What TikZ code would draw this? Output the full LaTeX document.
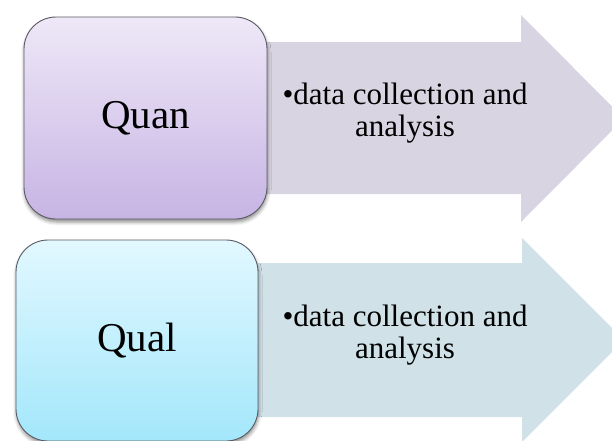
\documentclass[tikz,border=0pt]{standalone}
\usepackage{fontspec}
\setmainfont{Liberation Serif}
\usepackage{tikz}
\usetikzlibrary{shadows.blur}
\definecolor{QuanTop}{RGB}{238,232,247}
\definecolor{QuanBottom}{RGB}{199,180,228}
\definecolor{QualTop}{RGB}{226,248,255}
\definecolor{QualBottom}{RGB}{163,231,251}
\definecolor{QuanArrow}{RGB}{217,212,225}
\definecolor{QualArrow}{RGB}{208,225,231}
\definecolor{BoxLine}{RGB}{90,90,100}

\begin{document}
\begin{tikzpicture}[x=1pt, y=-1pt,
    stagebox/.style={rounded corners=32pt, draw=BoxLine, line width=0.9pt,
        blur shadow={shadow xshift=0.5pt, shadow yshift=-3pt,
                     shadow blur radius=3.5pt, shadow opacity=45},
        font=\fontsize{41}{44}\selectfont, inner sep=0pt},
    bullettext/.style={align=center, font=\fontsize{31}{32}\selectfont, inner sep=0pt}]
    \useasboundingbox (0,0) rectangle (612,440);

    % Arrows
    \fill[QuanArrow] (250,42) -- (521,42) -- (521,15) -- (624,118.5)
        -- (521,222) -- (521,194) -- (250,194) -- cycle;
    \fill[QualArrow] (250,263) -- (522,263) -- (522,238) -- (624,340)
        -- (522,442) -- (522,417) -- (250,417) -- cycle;

    % Boxes
    \node[stagebox, top color=QuanTop, bottom color=QuanBottom,
          minimum width=243, minimum height=202] (quan) at (145.5,118) {Quan};
    \node[stagebox, top color=QualTop, bottom color=QualBottom,
          minimum width=242, minimum height=201] (qual) at (137,340.5) {Qual};

    % Bullet texts
    \node[bullettext] (quantext) at (405,113) {•data collection and\\analysis};
    \node[bullettext] (qualtext) at (405,335) {•data collection and\\analysis};
\end{tikzpicture}
\end{document}
